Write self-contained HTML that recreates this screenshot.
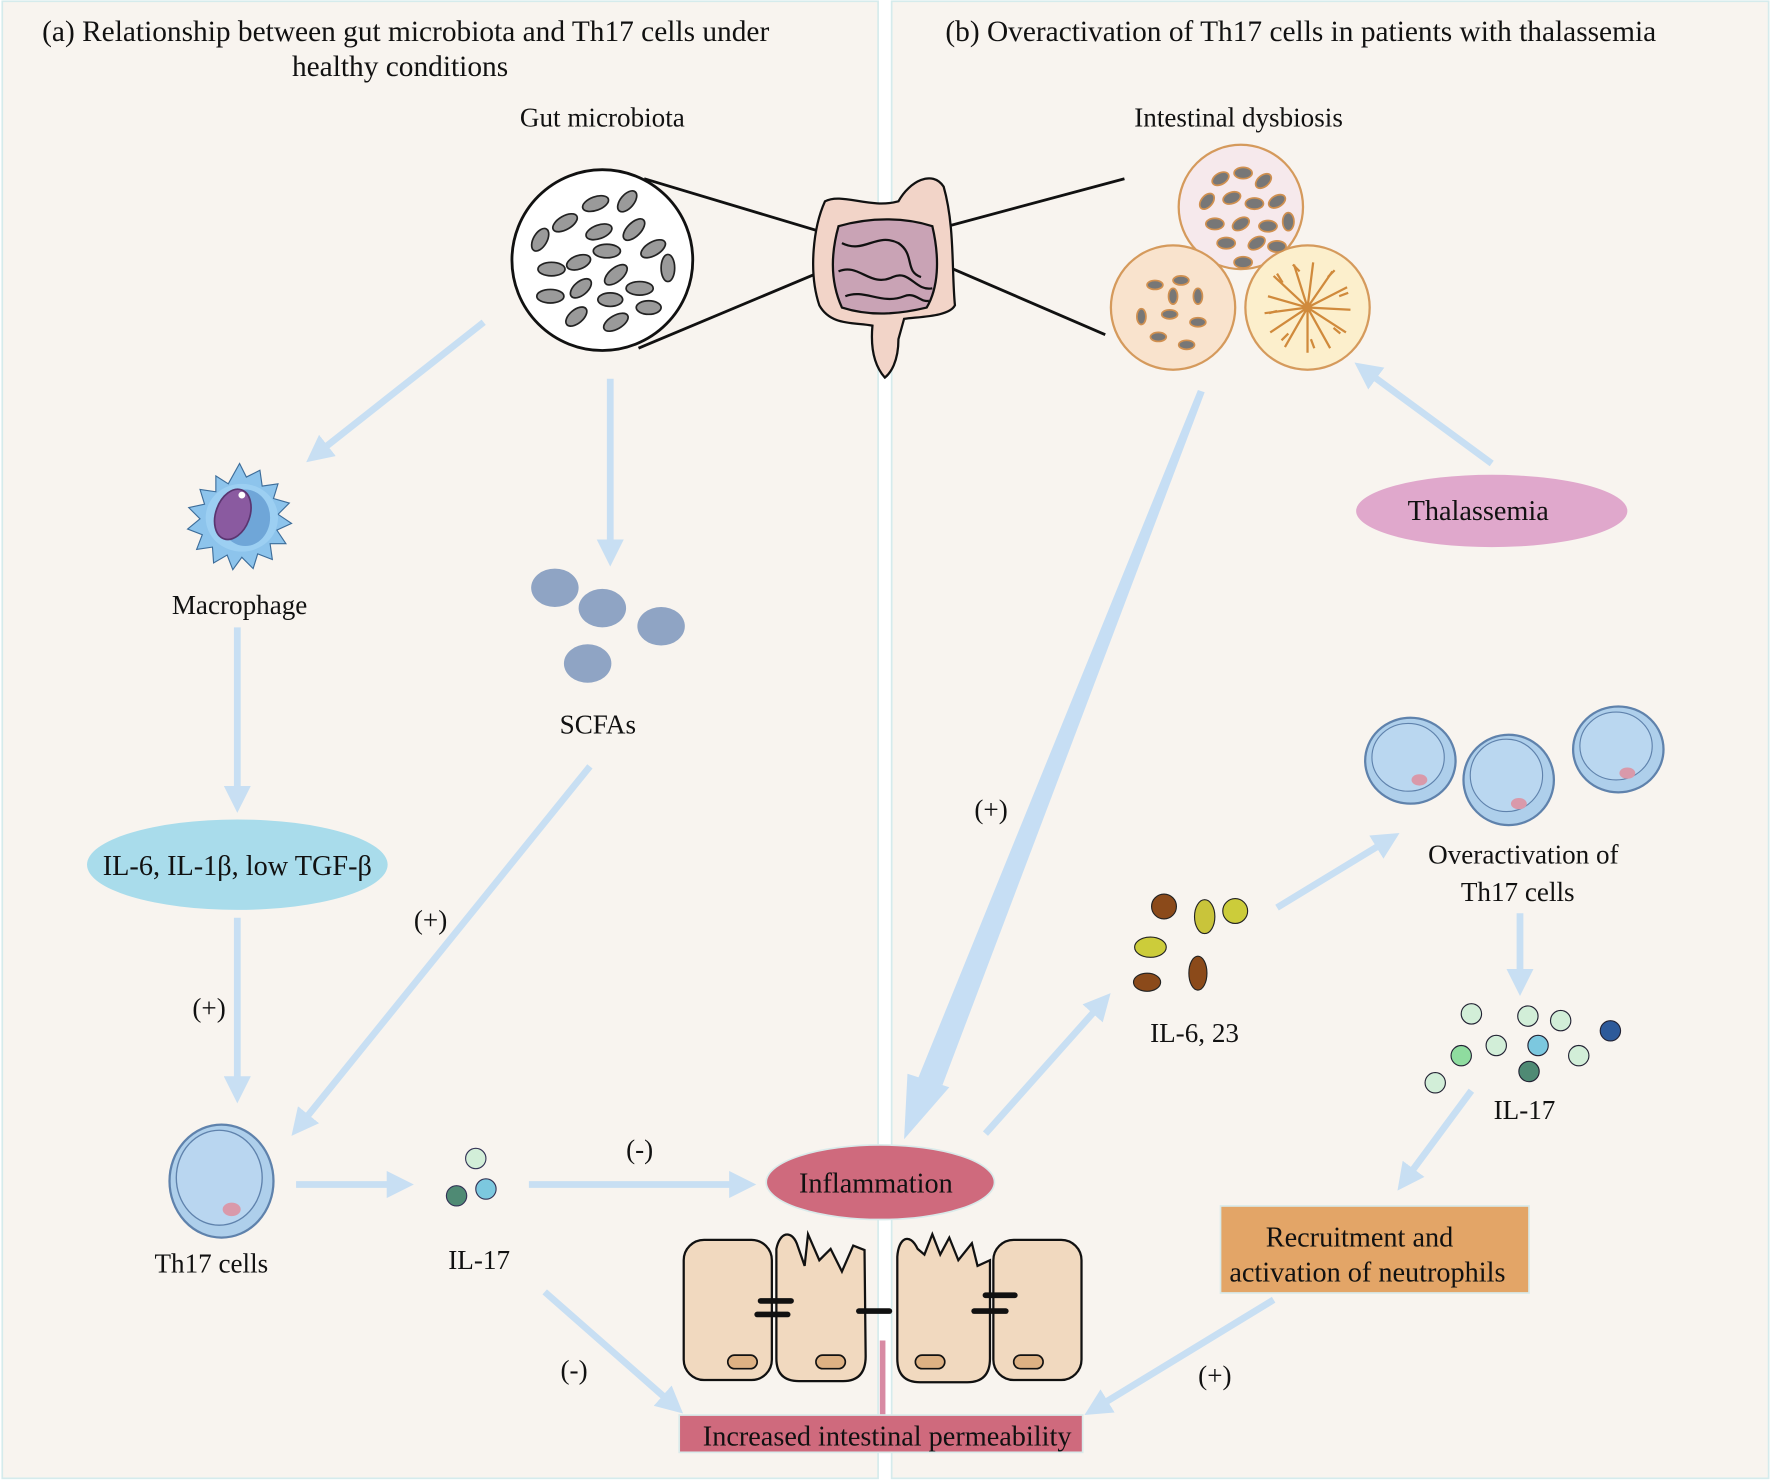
<!DOCTYPE html>
<html><head><meta charset="utf-8"><style>
html,body{margin:0;padding:0;background:#fff;}
svg{display:block;}
text{font-family:"Liberation Serif",serif;fill:#111;}
</style></head><body>
<svg width="1772" height="1483" viewBox="0 0 1568 1312" xmlns="http://www.w3.org/2000/svg">
<defs>
<marker id="ah" viewBox="0 0 10 10" refX="2" refY="5" markerWidth="4" markerHeight="4" orient="auto" markerUnits="strokeWidth">
<path d="M0,0 L10,5 L0,10 z" fill="#c6def4"/></marker>
</defs>
<rect width="1568" height="1312" fill="#fff"/>
<rect x="2" y="1" width="775" height="1307" fill="#f8f4ef" stroke="#d5ebec" stroke-width="1.5"/>
<rect x="789" y="1" width="776" height="1307" fill="#f8f4ef" stroke="#d5ebec" stroke-width="1.5"/>

<g font-size="26" text-anchor="middle">
<text x="359" y="36">(a) Relationship between gut microbiota and Th17 cells under</text>
<text x="354" y="67">healthy conditions</text>
<text x="1151" y="36">(b) Overactivation of Th17 cells in patients with thalassemia</text>
</g>
<g font-size="24" text-anchor="middle">
<text x="533" y="112">Gut microbiota</text>
<text x="1096" y="112">Intestinal dysbiosis</text>
<text x="212" y="543">Macrophage</text>
<text x="529" y="649">SCFAs</text>
<text x="187" y="1126">Th17 cells</text>
<text x="424" y="1123">IL-17</text>
<text x="1057" y="922">IL-6,  23</text>
<text x="1349" y="990">IL-17</text>
<text x="1348" y="764">Overactivation of</text>
<text x="1343" y="797">Th17 cells</text>
<text x="185" y="900">(+)</text>
<text x="381" y="822">(+)</text>
<text x="566" y="1025">(-)</text>
<text x="508" y="1220">(-)</text>
<text x="877" y="724">(+)</text>
<text x="1075" y="1225">(+)</text>
</g>

<!-- arrows -->
<g stroke="#c6def4" stroke-width="6" fill="none" marker-end="url(#ah)" opacity="0.95">
<line x1="428" y1="285" x2="286" y2="397"/>
<line x1="540" y1="335" x2="540" y2="482"/>
<line x1="210" y1="555" x2="210" y2="700"/>
<line x1="210" y1="812" x2="210" y2="957"/>
<line x1="522" y1="678" x2="270" y2="990"/>
<line x1="262" y1="1048" x2="347" y2="1048"/>
<line x1="468" y1="1048" x2="650" y2="1048"/>
<line x1="482" y1="1143" x2="590" y2="1238"/>
<line x1="1320" y1="410" x2="1214" y2="332"/>
<line x1="872" y1="1003" x2="970" y2="893"/>
<line x1="1130" y1="803" x2="1222" y2="747"/>
<line x1="1345" y1="808" x2="1345" y2="862"/>
<line x1="1302" y1="965" x2="1248" y2="1038"/>
<line x1="1127" y1="1150" x2="976" y2="1242"/>
</g>
<polygon points="1060,345 1066,347 834,960 812,955" fill="#c6def4"/>
<polygon points="800,1008 803,950 840,962" fill="#c6def4"/>

<!-- gut microbiota circle -->
<line x1="570" y1="158" x2="760" y2="215" stroke="#111" stroke-width="2.5"/>
<line x1="565" y1="308" x2="770" y2="222" stroke="#111" stroke-width="2.5"/>
<line x1="995" y1="158" x2="820" y2="205" stroke="#111" stroke-width="2.5"/>
<line x1="978" y1="296" x2="825" y2="230" stroke="#111" stroke-width="2.5"/>
<circle cx="533" cy="230" r="80" fill="#fff" stroke="#111" stroke-width="2.5"/>
<g fill="#9a9a9a" stroke="#222" stroke-width="1.5">
<ellipse cx="527" cy="180" rx="12" ry="6" transform="rotate(-20 527 180)"/>
<ellipse cx="555" cy="178" rx="11" ry="6" transform="rotate(-50 555 178)"/>
<ellipse cx="500" cy="197" rx="12" ry="6" transform="rotate(-30 500 197)"/>
<ellipse cx="530" cy="205" rx="12" ry="6" transform="rotate(-20 530 205)"/>
<ellipse cx="561" cy="203" rx="12" ry="6" transform="rotate(-45 561 203)"/>
<ellipse cx="478" cy="212" rx="11" ry="6" transform="rotate(-60 478 212)"/>
<ellipse cx="578" cy="220" rx="12" ry="6" transform="rotate(-30 578 220)"/>
<ellipse cx="537" cy="222" rx="12" ry="6"/>
<ellipse cx="488" cy="238" rx="12" ry="6"/>
<ellipse cx="512" cy="232" rx="11" ry="6" transform="rotate(-20 512 232)"/>
<ellipse cx="545" cy="243" rx="12" ry="6" transform="rotate(-40 545 243)"/>
<ellipse cx="591" cy="237" rx="6" ry="12"/>
<ellipse cx="514" cy="255" rx="11" ry="6" transform="rotate(-40 514 255)"/>
<ellipse cx="566" cy="255" rx="12" ry="6"/>
<ellipse cx="487" cy="262" rx="12" ry="6"/>
<ellipse cx="540" cy="265" rx="11" ry="6"/>
<ellipse cx="574" cy="272" rx="11" ry="6"/>
<ellipse cx="510" cy="280" rx="11" ry="6" transform="rotate(-40 510 280)"/>
<ellipse cx="545" cy="285" rx="12" ry="6" transform="rotate(-30 545 285)"/>
</g>

<!-- intestine -->
<path d="M730,178 C745,170 770,185 795,178 C805,160 825,150 835,165 C845,200 842,240 845,270 C840,280 815,280 800,282 L795,300 C795,320 788,330 783,334 C775,325 770,310 772,288 C755,285 735,288 725,270 C715,240 720,200 730,178 Z" fill="#f2d4c8" stroke="#111" stroke-width="2"/>
<path d="M742,200 C770,192 800,192 825,200 C832,230 830,255 820,272 C795,278 770,280 745,272 C735,250 735,225 742,200 Z" fill="#c9a3b5" stroke="#111" stroke-width="2"/>
<g fill="none" stroke="#111" stroke-width="2">
<path d="M745,215 C765,225 775,205 795,215 C810,225 800,240 815,245"/>
<path d="M742,240 C760,232 770,255 790,245 C805,238 810,258 825,255"/>
<path d="M748,262 C765,255 780,270 800,262 C810,258 815,268 822,266"/>
</g>

<!-- dysbiosis circles -->
<circle cx="1098" cy="183" r="55" fill="#f6e9ec" stroke="#d59a5c" stroke-width="2"/>
<circle cx="1038" cy="272" r="55" fill="#f9e3cd" stroke="#d59a5c" stroke-width="2"/>
<circle cx="1157" cy="272" r="55" fill="#fcefcc" stroke="#d59a5c" stroke-width="2"/>
<g fill="#777" stroke="#d09050" stroke-width="1.5">
<ellipse cx="1080" cy="158" rx="8" ry="5" transform="rotate(-30 1080 158)"/>
<ellipse cx="1100" cy="153" rx="8" ry="5"/>
<ellipse cx="1118" cy="160" rx="8" ry="5" transform="rotate(-40 1118 160)"/>
<ellipse cx="1068" cy="178" rx="8" ry="5" transform="rotate(-50 1068 178)"/>
<ellipse cx="1090" cy="175" rx="8" ry="5" transform="rotate(-20 1090 175)"/>
<ellipse cx="1110" cy="180" rx="8" ry="5"/>
<ellipse cx="1130" cy="178" rx="8" ry="5" transform="rotate(-30 1130 178)"/>
<ellipse cx="1075" cy="198" rx="8" ry="5"/>
<ellipse cx="1098" cy="198" rx="8" ry="5" transform="rotate(-30 1098 198)"/>
<ellipse cx="1122" cy="200" rx="8" ry="5"/>
<ellipse cx="1140" cy="196" rx="5" ry="8"/>
<ellipse cx="1085" cy="215" rx="8" ry="5"/>
<ellipse cx="1112" cy="215" rx="8" ry="5" transform="rotate(-30 1112 215)"/>
<ellipse cx="1130" cy="218" rx="8" ry="5"/>
<ellipse cx="1100" cy="232" rx="8" ry="5"/>
</g>
<g fill="#777" stroke="#d09050" stroke-width="1.5">
<ellipse cx="1022" cy="252" rx="7" ry="4"/><ellipse cx="1045" cy="248" rx="7" ry="4"/>
<ellipse cx="1060" cy="262" rx="4" ry="7"/><ellipse cx="1010" cy="280" rx="4" ry="7"/>
<ellipse cx="1035" cy="278" rx="7" ry="4"/><ellipse cx="1060" cy="285" rx="7" ry="4"/>
<ellipse cx="1025" cy="298" rx="7" ry="4"/><ellipse cx="1050" cy="305" rx="7" ry="4"/>
<ellipse cx="1038" cy="262" rx="4" ry="7"/>
</g>
<g stroke="#d08a3c" stroke-width="2" fill="none">
<path d="M1157,272 l-35,-10 M1157,272 l-30,-28 M1157,272 l-12,-38 M1157,272 l5,-40 M1157,272 l22,-32 M1157,272 l35,-18 M1157,272 l38,2 M1157,272 l34,22 M1157,272 l20,36 M1157,272 l0,40 M1157,272 l-20,35 M1157,272 l-33,22 M1157,272 l-38,5"/>
<path d="M1135,250 l-5,-8 M1150,240 l-6,-6 M1175,245 l6,-6 M1185,262 l8,-3 M1180,290 l6,5 M1160,300 l3,8 M1140,295 l-6,6 M1130,275 l-7,2"/>
</g>

<!-- thalassemia -->
<ellipse cx="1320" cy="452" rx="120" ry="32" fill="#e0a8cc"/>
<text x="1308" y="460" font-size="25" text-anchor="middle">Thalassemia</text>

<!-- macrophage -->
<g>
<path d="M212,410 l6,12 l12,-6 l2,14 l14,-2 l-4,13 l14,4 l-10,10 l12,8 l-13,6 l8,12 l-14,0 l2,14 l-13,-5 l-4,13 l-10,-10 l-8,11 l-5,-13 l-12,7 l-1,-14 l-14,2 l5,-13 l-13,-5 l11,-9 l-10,-10 l14,-3 l-4,-13 l14,2 l0,-14 l11,7 z" fill="#8dc4ec" stroke="#3d6d9a" stroke-width="1"/>
<ellipse cx="214" cy="458" rx="32" ry="30" fill="#9ccff2"/>
<ellipse cx="217" cy="458" rx="22" ry="25" fill="#6fa6d8"/>
<ellipse cx="206" cy="455" rx="15" ry="23" fill="#8a5aa0" transform="rotate(20 206 455)" stroke="#5a3570" stroke-width="1.5"/>
<circle cx="214" cy="438" r="3" fill="#fff"/>
</g>

<!-- SCFAs -->
<g fill="#8fa4c4"><ellipse cx="491" cy="520" rx="21" ry="17"/><ellipse cx="533" cy="538" rx="21" ry="17"/><ellipse cx="585" cy="554" rx="21" ry="17"/><ellipse cx="520" cy="587" rx="21" ry="17"/></g>

<!-- IL ellipse -->
<ellipse cx="210" cy="765" rx="133" ry="40" fill="#a9dceb"/>
<text x="210" y="774" font-size="25" text-anchor="middle">IL-6, IL-1β, low TGF-β</text>

<!-- Th17 cell left -->
<ellipse cx="196" cy="1045" rx="46" ry="50" fill="#aecfeb" stroke="#5f82ac" stroke-width="2"/>
<ellipse cx="194" cy="1042" rx="38" ry="42" fill="#b9d6f0" stroke="#5f82ac" stroke-width="1.2"/>
<ellipse cx="205" cy="1070" rx="8" ry="6" fill="#d999aa"/>

<!-- IL-17 left -->
<circle cx="421" cy="1025" r="9" fill="#d2eed8" stroke="#335" stroke-width="1"/>
<circle cx="404" cy="1058" r="9" fill="#4f8a74" stroke="#335" stroke-width="1"/>
<circle cx="430" cy="1052" r="9" fill="#7cc8df" stroke="#335" stroke-width="1"/>

<!-- inflammation -->
<ellipse cx="779" cy="1046" rx="101" ry="33" fill="#cf6a7d" stroke="#d9eaea" stroke-width="1.5"/>
<text x="775" y="1055" font-size="25" text-anchor="middle">Inflammation</text>

<!-- epithelium -->
<g fill="#f1d9bf" stroke="#111" stroke-width="2">
<rect x="605" y="1097" width="78" height="124" rx="18"/>
<path d="M687,1105 C690,1090 700,1088 705,1100 L712,1120 L715,1092 L725,1115 L735,1105 L745,1125 L755,1102 L765,1106 L766,1200 Q766,1222 746,1222 L707,1222 Q687,1222 687,1202 Z"/>
<path d="M794,1112 C795,1095 805,1090 812,1105 L818,1110 L825,1092 L832,1110 L840,1095 L848,1115 L860,1100 L865,1120 L876,1115 L876,1202 Q876,1223 856,1223 L814,1223 Q794,1223 794,1202 Z"/>
<rect x="879" y="1097" width="78" height="124" rx="18"/>
</g>
<g fill="#ddb183" stroke="#111" stroke-width="1.5">
<rect x="644" y="1199" width="26" height="12" rx="6"/><rect x="722" y="1199" width="26" height="12" rx="6"/>
<rect x="810" y="1199" width="26" height="12" rx="6"/><rect x="897" y="1199" width="26" height="12" rx="6"/>
</g>
<g stroke="#111" stroke-width="5" stroke-linecap="round">
<line x1="673" y1="1151" x2="700" y2="1151"/><line x1="670" y1="1163" x2="697" y2="1163"/>
<line x1="760" y1="1160" x2="787" y2="1160"/>
<line x1="862" y1="1160" x2="890" y2="1160"/><line x1="872" y1="1146" x2="898" y2="1146"/>
</g>
<line x1="781" y1="1186" x2="781" y2="1253" stroke="#d88aa3" stroke-width="5"/>
<rect x="601" y="1252" width="357" height="33" fill="#cf6a7d" stroke="#d9eaea" stroke-width="1.5"/>
<text x="785" y="1279" font-size="25" text-anchor="middle">Increased intestinal permeability</text>

<!-- Th17 cells right -->
<g stroke="#5f82ac" stroke-width="2">
<ellipse cx="1248" cy="673" rx="40" ry="38" fill="#aecfeb"/><ellipse cx="1246" cy="670" rx="32" ry="30" fill="#bad7f0" stroke-width="1"/><ellipse cx="1256" cy="690" rx="7" ry="5" fill="#d999aa" stroke="none"/>
<ellipse cx="1335" cy="690" rx="40" ry="40" fill="#aecfeb"/><ellipse cx="1333" cy="686" rx="32" ry="32" fill="#bad7f0" stroke-width="1"/><ellipse cx="1344" cy="711" rx="7" ry="5" fill="#d999aa" stroke="none"/>
<ellipse cx="1432" cy="663" rx="40" ry="38" fill="#aecfeb"/><ellipse cx="1430" cy="660" rx="32" ry="30" fill="#bad7f0" stroke-width="1"/><ellipse cx="1440" cy="684" rx="7" ry="5" fill="#d999aa" stroke="none"/>
</g>

<!-- IL-6,23 -->
<g stroke="#222" stroke-width="1">
<circle cx="1030" cy="802" r="11" fill="#8b4a1a"/>
<ellipse cx="1066" cy="811" rx="9" ry="15" fill="#c9c43a"/>
<circle cx="1093" cy="806" r="11" fill="#cccc3a"/>
<ellipse cx="1018" cy="838" rx="14" ry="9" fill="#cccc3a"/>
<ellipse cx="1015" cy="869" rx="12" ry="8" fill="#8b4a1a"/>
<ellipse cx="1060" cy="861" rx="8" ry="15" fill="#8b4a1a"/>
</g>

<!-- IL-17 right -->
<g stroke="#223" stroke-width="1">
<circle cx="1302" cy="897" r="9" fill="#d2eed8"/><circle cx="1352" cy="899" r="9" fill="#d2eed8"/>
<circle cx="1381" cy="903" r="9" fill="#d2eed8"/><circle cx="1425" cy="912" r="9" fill="#2d5a9a"/>
<circle cx="1293" cy="934" r="9" fill="#8fdc9f"/><circle cx="1324" cy="925" r="9" fill="#d2eed8"/>
<circle cx="1361" cy="925" r="9" fill="#7cc8df"/><circle cx="1397" cy="934" r="9" fill="#d2eed8"/>
<circle cx="1353" cy="948" r="9" fill="#4f8a74"/><circle cx="1270" cy="958" r="9" fill="#d2eed8"/>
</g>

<!-- neutrophil box -->
<rect x="1080" y="1067" width="273" height="77" fill="#e3a567" stroke="#d9eaea" stroke-width="1.5"/>
<text x="1203" y="1103" font-size="25" text-anchor="middle">Recruitment and</text>
<text x="1210" y="1134" font-size="25" text-anchor="middle">activation of neutrophils</text>
</svg>
</body></html>
